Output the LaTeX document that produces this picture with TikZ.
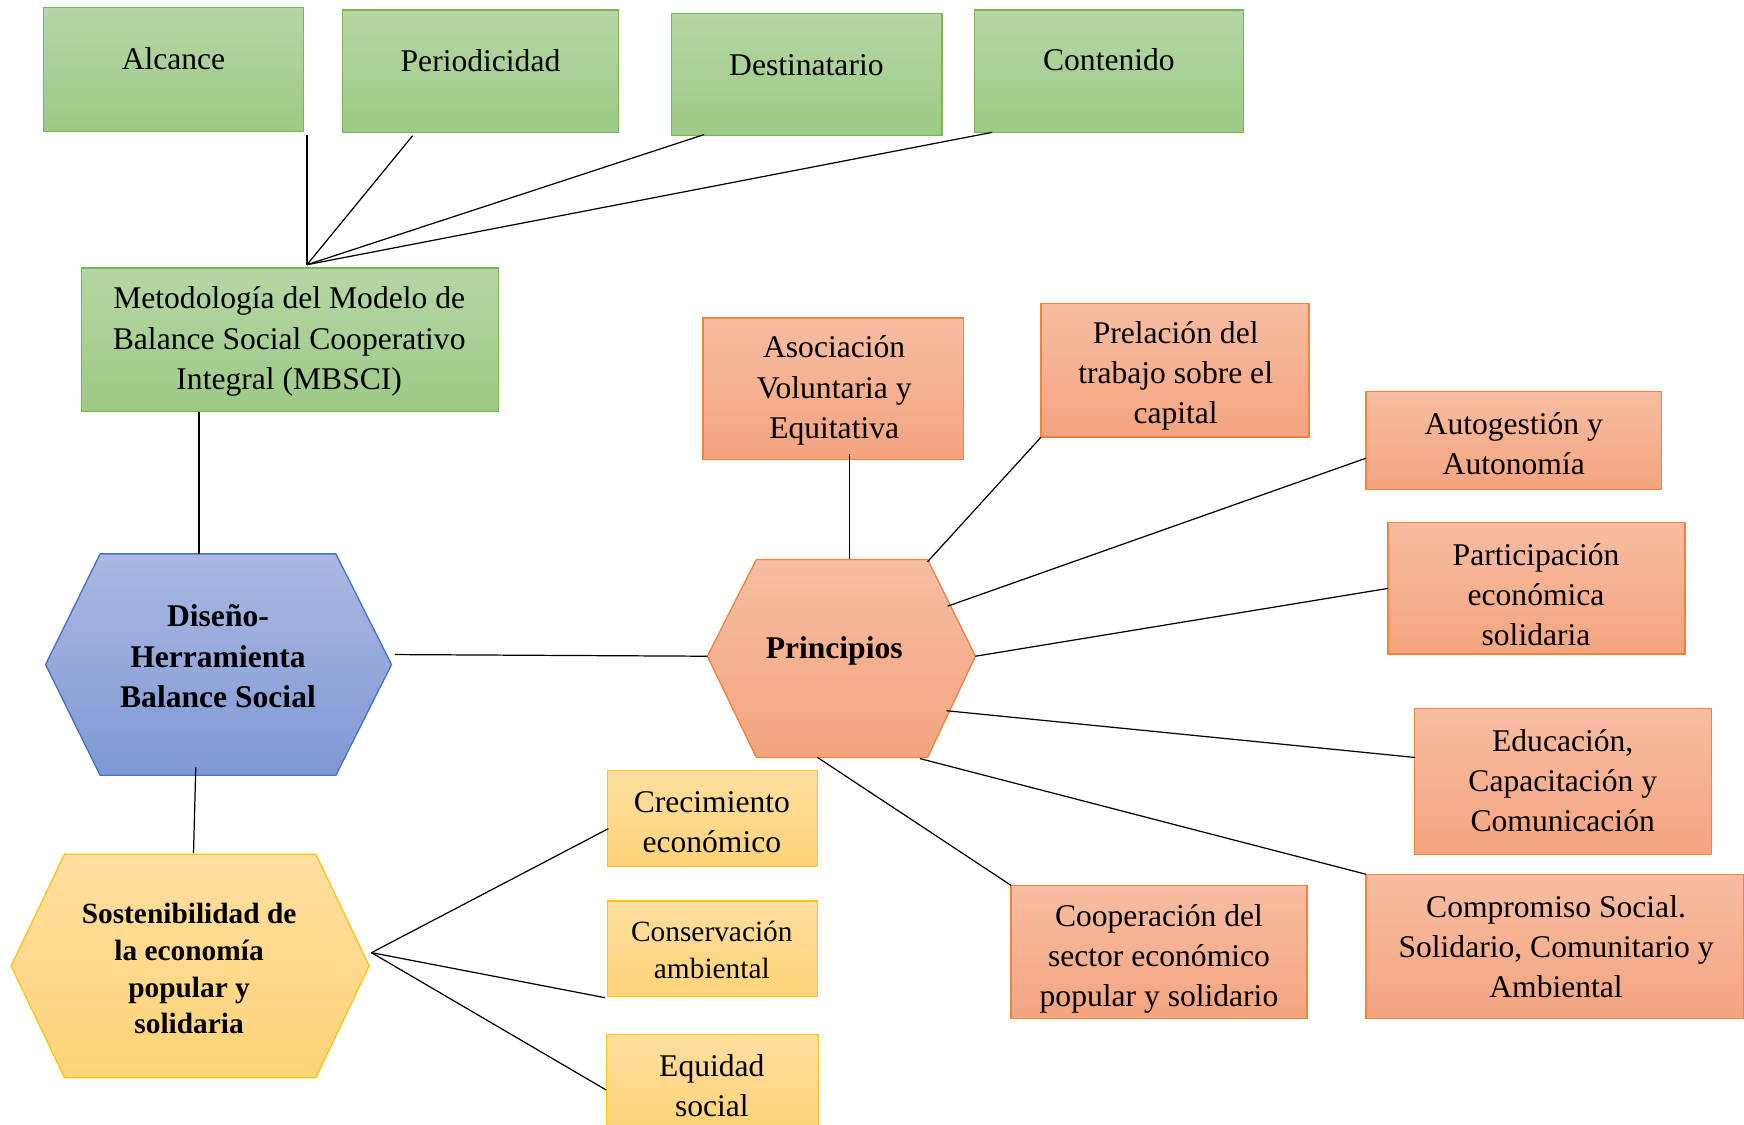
\documentclass[tikz,border=0pt]{standalone}
\usepackage{fontspec}
\setmainfont{Liberation Serif}
\usetikzlibrary{calc,fit}
\definecolor{gT}{HTML}{B5D6A5}
\definecolor{gB}{HTML}{9CCA85}
\definecolor{gD}{HTML}{78B555}
\definecolor{bT}{HTML}{AAB8E1}
\definecolor{bB}{HTML}{7F99D5}
\definecolor{bD}{HTML}{4472C4}
\definecolor{oT}{HTML}{F7BDA2}
\definecolor{oB}{HTML}{F4A47F}
\definecolor{oD}{HTML}{EE8440}
\definecolor{yT}{HTML}{FFDE9F}
\definecolor{yB}{HTML}{FFD378}
\definecolor{yD}{HTML}{FFC31A}
\tikzset{
  frame/.style={inner sep=0pt, outer sep=0pt},
  gbox/.style={frame, draw=gD, line width=0.6pt, top color=gT, bottom color=gB},
  obox/.style={frame, draw=oD, line width=0.6pt, top color=oT, bottom color=oB},
  ybox/.style={frame, draw=yD, line width=0.6pt, top color=yT, bottom color=yB},
  txt/.style={align=center, inner sep=0pt, font=\fontsize{14.2}{18}\selectfont},
  stxt/.style={align=center, inner sep=0pt, font=\fontsize{13.2}{16.5}\selectfont},
  btxt/.style={align=center, inner sep=0pt, font=\bfseries\fontsize{14.2}{18.2}\selectfont},
  sbtxt/.style={align=center, inner sep=0pt, font=\bfseries\fontsize{13.2}{16.5}\selectfont},
  conn/.style={draw=black, line width=0.55pt},
}
\begin{document}
\begin{tikzpicture}[x=0.5pt,y=-0.5pt]
\useasboundingbox (0,0) rectangle (1568,1010.6);

% ---------- green boxes ----------
\node[gbox, fit={(39,7)(273,118)}] (alc) {};
\node[gbox, fit={(308,9)(556,119)}] (peri) {};
\node[gbox, fit={(604,12)(847,122)}] (dest) {};
\node[gbox, fit={(876,9)(1118,119)}] (cont) {};
\node[gbox, fit={(73,241)(448,370)}] (met) {};
\node[txt] (alc-t) at (156,53) {Alcance};
\node[txt] (peri-t) at (432,55) {Periodicidad};
\node[txt] (dest-t) at (725,59) {Destinatario};
\node[txt] (cont-t) at (997,54) {Contenido};
\node[txt] (met-t) at (260,307) {Metodología del Modelo de\\Balance Social Cooperativo\\Integral (MBSCI)};

% ---------- blue hexagon ----------
\node[frame, fit={(41,498)(352,697)}] (dis) {};
\shade[top color=bT, bottom color=bB, draw=bD, line width=0.6pt]
  (dis.west) -- ($(dis.north west)+(49,0)$) -- ($(dis.north east)+(-50,0)$) -- (dis.east)
  -- ($(dis.south east)+(-50,0)$) -- ($(dis.south west)+(49,0)$) -- cycle;
\node[btxt] (dis-t) at (196,590) {Diseño-\\Herramienta\\Balance Social};

% ---------- orange hexagon ----------
\node[frame, fit={(636,503)(877,677)}] (pri) {};
\shade[top color=oT, bottom color=oB, draw=oD, line width=0.6pt]
  (pri.west) -- ($(pri.north west)+(44,0)$) -- ($(pri.north east)+(-43,0)$) -- (pri.east)
  -- ($(pri.south east)+(-43,4)$) -- ($(pri.south west)+(44,4)$) -- cycle;
\node[btxt] (pri-t) at (750,585) {Principios};

% ---------- yellow hexagon ----------
\node[frame, fit={(10,768)(332,969)}] (sos) {};
\shade[top color=yT, bottom color=yB, draw=yD, line width=0.6pt]
  (sos.west) -- ($(sos.north west)+(48,0)$) -- ($(sos.north east)+(-48,0)$) -- (sos.east)
  -- ($(sos.south east)+(-48,0)$) -- ($(sos.south west)+(48,0)$) -- cycle;
\node[sbtxt] (sos-t) at (170,871) {Sostenibilidad de\\la economía\\popular y\\solidaria};

% ---------- orange boxes ----------
\node[obox, fit={(632,286)(866,413)}] (aso) {};
\node[obox, fit={(936,273)(1177,393)}] (pre) {};
\node[obox, fit={(1228,352)(1494,440)}] (aut) {};
\node[obox, fit={(1248,470)(1515,588)}] (par) {};
\node[obox, fit={(1272,637)(1539,768)}] (edu) {};
\node[obox, fit={(1228,786)(1568,916)}] (com) {};
\node[obox, fit={(909,796)(1175,916)}] (coo) {};
\node[txt] (aso-t) at (750,351) {Asociación\\Voluntaria y\\Equitativa};
\node[txt] (pre-t) at (1057,338) {Prelación del\\trabajo sobre el\\capital};
\node[txt] (aut-t) at (1361,399) {Autogestión y\\Autonomía};
\node[txt] (par-t) at (1381,535) {Participación\\económica\\solidaria};
\node[txt] (edu-t) at (1405,702) {Educación,\\Capacitación y\\Comunicación};
\node[txt] (com-t) at (1399,851) {Compromiso Social.\\Solidario, Comunitario y\\Ambiental};
\node[txt] (coo-t) at (1042,862) {Cooperación del\\sector económico\\popular y solidario};

% ---------- yellow boxes ----------
\node[ybox, fit={(546,693)(735,779)}] (cre) {};
\node[ybox, fit={(546,810)(735,896)}] (con) {};
\node[ybox, fit={(545,930)(736,1016)}] (equ) {};
\node[txt] (cre-t) at (640,739) {Crecimiento\\económico};
\node[stxt] (con-t) at (640,854) {Conservación\\ambiental};
\node[txt] (equ-t) at (640,976) {Equidad\\social};

% ---------- connectors ----------
\coordinate (hub) at ($(met.north west)+(203,-3)$);
\draw[conn] (hub) -- ($(alc.south east)+(3,3)$);
\draw[conn] (hub) -- ($(peri.south west)+(63,3)$);
\draw[conn] (hub) -- ($(dest.south west)+(29,-1)$);
\draw[conn] (hub) -- ($(cont.south west)+(16,0)$);
\draw[conn] ($(met.south west)+(106,0)$) -- ($(dis.north west)+(138,0)$);
\draw[conn] ($(dis.east)+(3,-9)$) -- (pri.west);
\draw[conn] ($(dis.south west)+(135,-7)$) -- ($(sos.north west)+(164,-1)$);
\coordinate (syh) at ($(sos.east)+(2,-12)$);
\draw[conn] (syh) -- ($(cre.south west)+(1,-34)$);
\draw[conn] (syh) -- ($(con.south west)+(-2,1)$);
\draw[conn] (syh) -- ($(equ.north west)+(0,50)$);
\draw[conn] ($(aso.south west)+(132,-5)$) -- ($(pri.north west)+(128,0)$);
\draw[conn] (pre.south west) -- ($(pri.north east)+(-43,2)$);
\draw[conn] ($(aut.north west)+(0,60)$) -- ($(pri.north east)+(-25,42)$);
\draw[conn] ($(par.north west)+(0,59)$) -- (pri.east);
\draw[conn] ($(edu.north west)+(0,44)$) -- ($(pri.south east)+(-26,-38)$);
\draw[conn] (com.north west) -- ($(pri.south east)+(-50,5)$);
\draw[conn] (coo.north west) -- ($(pri.south west)+(99,4)$);
\end{tikzpicture}
\end{document}
